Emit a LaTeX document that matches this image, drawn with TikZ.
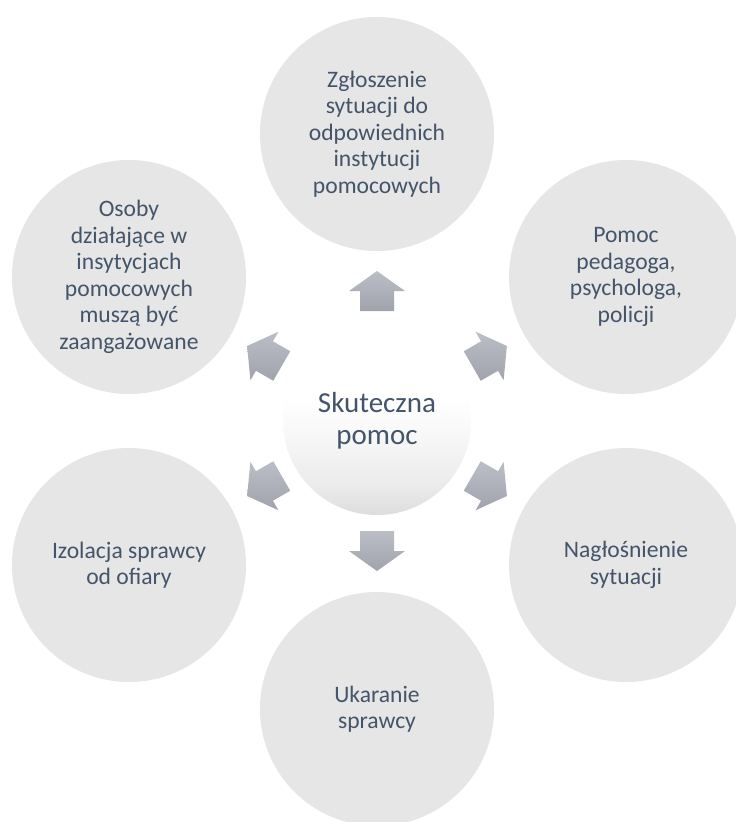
\documentclass[tikz,border=0pt]{standalone}
\usepackage{fontspec}
\setmainfont{Carlito}
\definecolor{circfill}{HTML}{E6E6E6}
\definecolor{txt}{HTML}{44546A}
\definecolor{hubg1}{HTML}{DDDDDD}
\definecolor{hubg2}{HTML}{EBEBEB}
\definecolor{hubg3}{HTML}{F9F9F9}
\definecolor{arrtop}{HTML}{BBBEC6}
\definecolor{arrbot}{HTML}{A0A3AB}
\pgfdeclareverticalshading{hubshade}{100bp}{color(0bp)=(hubg1); color(25bp)=(hubg1); color(33bp)=(hubg2); color(48bp)=(hubg3); color(56bp)=(white); color(100bp)=(white)}
\pgfdeclareverticalshading{arrshade}{100bp}{color(0bp)=(arrbot); color(25bp)=(arrbot); color(75bp)=(arrtop); color(100bp)=(arrtop)}
\begin{document}
\begin{tikzpicture}[x=1pt,y=-1pt,
  outer/.style={circle, fill=circfill, minimum size=234pt, inner sep=0pt,
    align=center, text=txt, font=\fontsize{23.6}{26.5}\selectfont},
  hub/.style={circle, minimum size=188pt, inner sep=0pt, align=center,
    text=txt, shading=hubshade, font=\fontsize{29}{31.5}\selectfont},
  blockarrow/.style={shading=arrshade, draw=none}]
\clip (0,0) rectangle (736,822);
\fill[white] (0,0) rectangle (736,822);
\node[outer] (top) at (377,134) {Zgłoszenie\\sytuacji do\\odpowiednich\\instytucji\\pomocowych};
\node[outer] (ur) at (626,277) {Pomoc\\pedagoga,\\psychologa,\\policji};
\node[outer] (lr) at (626,565) {Nagłośnienie\\sytuacji};
\node[outer] (bot) at (377,709) {Ukaranie\\sprawcy};
\node[outer] (ll) at (129,565) {Izolacja sprawcy\\od ofiary};
\node[outer] (ul) at (129,277) {Osoby\\działające w\\insytycjach\\pomocowych\\muszą być\\zaangażowane};
\node[hub] (hub) at (377,421) {Skuteczna\\pomoc};
\foreach \a in {90,30,-30,-90,-150,150} {
  \path[blockarrow, shift={(hub.center)}, rotate=\a]
    (110,-17) -- (130,-17) -- (130,-28) -- (150,0) -- (130,28) -- (130,17) -- (110,17) -- cycle;
}
\end{tikzpicture}
\end{document}
